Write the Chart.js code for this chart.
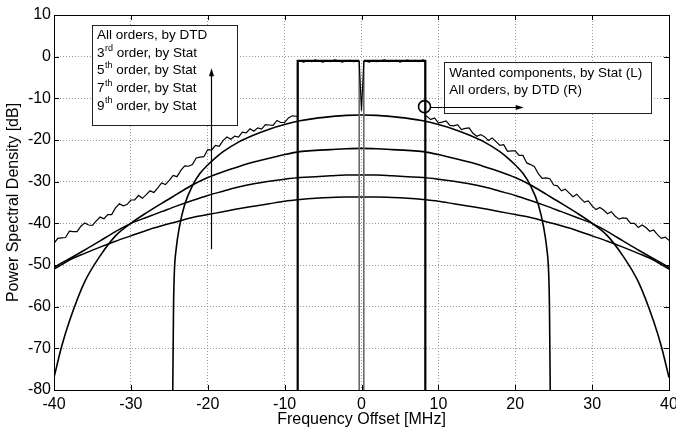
<!DOCTYPE html>
<html>
<head>
<meta charset="utf-8">
<script src="https://cdn.jsdelivr.net/npm/chart.js@4.4.1/dist/chart.umd.min.js"></script>
<style>
  html, body { margin: 0; padding: 0; background: #fff; }
  canvas { display: block; }
</style>
</head>
<body>
<canvas id="psd" width="676" height="432"></canvas>
<script>
const FONT = "'Liberation Sans', Arial, sans-serif";

// All orders, by DTD (noisy curve)
const dtdFreq = [
  -40, -39.5, -39, -38.5, -38, -37.5, -37, -36.5, -36, -35.5, -35, -34.5, -34, -33.5, -33, -32.5,
  -32, -31.5, -31, -30.5, -30, -29.5, -29, -28.5, -28, -27.5, -27, -26.5, -26, -25.5, -25, -24.5,
  -24, -23.5, -23, -22.5, -22, -21.5, -21, -20.5, -20, -19.5, -19, -18.5, -18, -17.5, -17, -16.5,
  -16, -15.5, -15, -14.5, -14, -13.5, -13, -12.5, -12, -11.5, -11, -10.5, -10, -9.5, -9, -8.5,
  -8.3, -8.3, -8, -7.5, -7, -6.5, -6, -5.5, -5, -4.5, -4, -3.5, -3, -2.5, -2, -1.5, -1, -0.5, -0.3,
  0, 0.3, 0.5, 1, 1.5, 2, 2.5, 3, 3.5, 4, 4.5, 5, 5.5, 6, 6.5, 7, 7.5, 8, 8.3, 8.3,
  8.5, 9, 9.5, 10, 10.5, 11, 11.5, 12, 12.5, 13, 13.5, 14, 14.5, 15, 15.5, 16,
  16.5, 17, 17.5, 18, 18.5, 19, 19.5, 20, 20.5, 21, 21.5, 22, 22.5, 23, 23.5, 24,
  24.5, 25, 25.5, 26, 26.5, 27, 27.5, 28, 28.5, 29, 29.5, 30, 30.5, 31, 31.5, 32,
  32.5, 33, 33.5, 34, 34.5, 35, 35.5, 36, 36.5, 37, 37.5, 38, 38.5, 39, 39.5, 40
];
const dtdLevel = [
  -44.8, -43.6, -43.5, -43.4, -41.9, -42.0, -42.0, -40.7, -39.9, -40.4, -40.5, -39.4, -38.5, -38.9, -37.9, -37.9,
  -36.3, -35.3, -35.8, -35.5, -34.4, -34.4, -33.3, -34.0, -33.1, -32.2, -32.6, -31.5, -30.3, -30.7, -29.7, -28.5,
  -28.8, -27.3, -26.2, -26.3, -25.9, -24.3, -24.1, -24.0, -22.3, -22.4, -21.3, -21.5, -20.1, -19.3, -19.8, -19.1,
  -19.3, -18.1, -18.3, -17.3, -17.9, -17.1, -17.4, -16.3, -16.4, -16.5, -15.3, -15.8, -15.8, -14.7, -14.2, -14.3,
  -14.5, -1.2, -1.0, -1.3, -0.9, -1.2, -0.8, -1.1, -1.3, -0.9, -1.2, -0.8, -1.0, -1.3, -1.0, -0.9, -1.2, -1.0, -1.1,
  -13.0, -1.1, -1.0, -1.3, -0.9, -1.2, -1.0, -0.8, -1.2, -1.0, -0.9, -1.3, -1.0, -0.8, -1.1, -0.9, -1.2, -0.8, -1.0, -14.3,
  -14.3, -15.1, -14.7, -15.9, -15.7, -15.4, -16.5, -16.6, -16.3, -17.5, -17.2, -17.1, -18.4, -19.1, -18.7, -19.2,
  -20.1, -19.5, -20.4, -21.3, -21.1, -22.7, -22.6, -22.6, -23.7, -23.7, -25.5, -25.9, -26.4, -28.1, -29.2, -29.1,
  -29.3, -30.8, -31.0, -32.2, -31.8, -32.7, -33.6, -33.0, -34.0, -34.9, -34.6, -35.8, -36.7, -36.2, -36.8, -37.7,
  -37.2, -38.3, -39.0, -38.7, -38.8, -40.0, -40.0, -41.0, -40.4, -41.0, -41.9, -41.6, -42.7, -43.6, -43.3, -44.1
];

// Wanted components, by Stat (two blocks around the carrier)
const wantedFreq = [-8.3, -8.3, -0.3, -0.3, 0, 0.3, 0.3, 8.3, 8.3];
const wantedLevel = [-80, -1.0, -1.0, -80, null, -80, -1.0, -1.0, -80];

// 3rd order, by Stat
const freq3rd = [
  -24.55, -24.45, -24.35, -24.1, -23.7, -23, -22, -21, -20, -19, -18, -16, -14, -12, -10, -8, -6, -4, -2,
  0, 2, 4, 6, 8, 10, 12, 14, 16, 18, 19, 20, 21, 22, 23, 23.7, 24.1, 24.35, 24.45, 24.55
];
const level3rd = [
  -80, -60, -52, -46, -41, -35.5, -31, -28, -26, -24.3, -22.8, -20.5, -18.8, -17.4, -16.3, -15.4, -14.8, -14.4, -14.1,
  -14.0, -14.1, -14.4, -14.8, -15.4, -16.3, -17.4, -18.8, -20.5, -22.8, -24.3, -26, -28, -31, -35.5, -41, -46, -52, -60, -80
];

// 5th, 7th, 9th order, by Stat
const freqStat = [
  -40, -39, -38, -36, -34, -32, -30, -28, -26, -24, -22, -20, -18, -16, -14, -12, -10, -8, -6, -4, -2,
  0, 2, 4, 6, 8, 10, 12, 14, 16, 18, 20, 22, 24, 26, 28, 30, 32, 34, 36, 38, 39, 40
];
const level5th = [
  -77, -69.5, -63.5, -54, -47.8, -43, -40, -37.5, -35.2, -33, -30.8, -29, -27.6, -26.4, -25.3, -24.4, -23.5, -22.8, -22.5, -22.3, -22.1,
  -22.0, -22.1, -22.3, -22.5, -22.8, -23.5, -24.4, -25.3, -26.4, -27.6, -29, -30.8, -33, -35.2, -37.5, -40, -43, -47.8, -54, -63.5, -69.5, -77
];
const level7th = [
  -50.6, -49.5, -48.5, -46.4, -44.2, -42, -40, -38.6, -37.2, -35.8, -34.5, -33.3, -32.3, -31.3, -30.5, -29.9, -29.4, -29, -28.8, -28.6, -28.4,
  -28.4, -28.4, -28.6, -28.8, -29, -29.4, -29.9, -30.5, -31.3, -32.3, -33.3, -34.5, -35.8, -37.2, -38.6, -40, -42, -44.2, -46.4, -48.5, -49.5, -50.6
];
const level9th = [
  -51, -49.9, -48.8, -47.2, -45.7, -44.3, -43, -41.7, -40.6, -39.6, -38.6, -37.9, -37.2, -36.5, -35.9, -35.3, -34.7, -34.3, -34, -33.8, -33.7,
  -33.7, -33.7, -33.8, -34, -34.3, -34.7, -35.3, -35.9, -36.5, -37.2, -37.9, -38.6, -39.6, -40.6, -41.7, -43, -44.3, -45.7, -47.2, -48.8, -49.9, -51
];

const xTicksStep = 10;
const yTicksStep = 10;

const pts = (xs, ys) => xs.map((x, i) => ({ x, y: ys[i] }));

// legend notes: [text, superscript, rest]
const leftNoteLines = [
  ["All orders, by DTD", "", ""],
  ["3", "rd", " order, by Stat"],
  ["5", "th", " order, by Stat"],
  ["7", "th", " order, by Stat"],
  ["9", "th", " order, by Stat"]
];
const rightNoteLines = [
  ["Wanted components, by Stat (L)", "", ""],
  ["All orders, by DTD (R)", "", ""]
];

function drawNoteLine(ctx, line, x, y) {
  const [main, sup, rest] = line;
  ctx.font = `13.5px ${FONT}`;
  ctx.fillText(main, x, y);
  let cx = x + ctx.measureText(main).width;
  if (sup) {
    ctx.font = `9px ${FONT}`;
    ctx.fillText(sup, cx + 0.5, y - 5);
    cx += ctx.measureText(sup).width + 0.5;
    ctx.font = `13.5px ${FONT}`;
  }
  if (rest) ctx.fillText(rest, cx, y);
}

function arrowHead(ctx, tipX, tipY, dx, dy) {
  const len = 8, half = 2.5;
  const bx = tipX - dx * len, by = tipY - dy * len;
  ctx.beginPath();
  ctx.moveTo(tipX, tipY);
  ctx.lineTo(bx - dy * half, by + dx * half);
  ctx.lineTo(bx + dy * half, by - dx * half);
  ctx.closePath();
  ctx.fill();
}

const frameAndNotes = {
  id: "frameAndNotes",
  afterDatasetsDraw(chart) {
    const { ctx, chartArea: a, scales: { x, y } } = chart;
    ctx.save();
    ctx.strokeStyle = "#000";
    ctx.fillStyle = "#000";
    ctx.lineWidth = 1;

    // frame
    ctx.strokeRect(Math.round(a.left) + 0.5, Math.round(a.top) + 0.5,
      Math.round(a.right - a.left), Math.round(a.bottom - a.top));

    // inward ticks on all sides
    ctx.beginPath();
    x.ticks.forEach(t => {
      const px = Math.round(x.getPixelForValue(t.value)) + 0.5;
      ctx.moveTo(px, a.bottom); ctx.lineTo(px, a.bottom - 5);
      ctx.moveTo(px, a.top); ctx.lineTo(px, a.top + 5);
    });
    y.ticks.forEach(t => {
      const py = Math.round(y.getPixelForValue(t.value)) + 0.5;
      ctx.moveTo(a.left, py); ctx.lineTo(a.left + 5, py);
      ctx.moveTo(a.right, py); ctx.lineTo(a.right - 5, py);
    });
    ctx.stroke();

    // left note box
    const lx0 = x.getPixelForValue(-35.05), lx1 = x.getPixelForValue(-16.2);
    const ly0 = y.getPixelForValue(7.6), ly1 = y.getPixelForValue(-16.4);
    ctx.fillStyle = "#fff";
    ctx.fillRect(lx0, ly0, lx1 - lx0, ly1 - ly0);
    ctx.strokeStyle = "#222";
    ctx.strokeRect(Math.round(lx0) + 0.5, Math.round(ly0) + 0.5, Math.round(lx1 - lx0), Math.round(ly1 - ly0));
    ctx.fillStyle = "#000";
    ctx.textBaseline = "middle";
    ctx.textAlign = "left";
    leftNoteLines.forEach((line, i) => drawNoteLine(ctx, line, lx0 + 5, ly0 + 10.5 + i * 17.6));

    // upward arrow
    const ax = Math.round(x.getPixelForValue(-19.6)) + 0.5;
    const aBottom = y.getPixelForValue(-46.2), aTop = y.getPixelForValue(-2.8);
    ctx.strokeStyle = "#000";
    ctx.lineWidth = 1.2;
    ctx.beginPath();
    ctx.moveTo(ax, aBottom); ctx.lineTo(ax, aTop + 6);
    ctx.stroke();
    arrowHead(ctx, ax, aTop, 0, -1);

    // right note box
    const rx0 = x.getPixelForValue(10.75), rx1 = x.getPixelForValue(37.65);
    const ry0 = y.getPixelForValue(-1.3), ry1 = y.getPixelForValue(-13.5);
    ctx.fillStyle = "#fff";
    ctx.fillRect(rx0, ry0, rx1 - rx0, ry1 - ry0);
    ctx.strokeStyle = "#222";
    ctx.lineWidth = 1;
    ctx.strokeRect(Math.round(rx0) + 0.5, Math.round(ry0) + 0.5, Math.round(rx1 - rx0), Math.round(ry1 - ry0));
    ctx.fillStyle = "#000";
    rightNoteLines.forEach((line, i) => drawNoteLine(ctx, line, rx0 + 5, ry0 + 11 + i * 17));

    // circle marker and right arrow
    const cx = x.getPixelForValue(8.2), cy = y.getPixelForValue(-12);
    ctx.strokeStyle = "#000";
    ctx.lineWidth = 1.6;
    ctx.beginPath();
    ctx.arc(cx, cy, 6, 0, Math.PI * 2);
    ctx.stroke();
    const tipX = x.getPixelForValue(21.1);
    ctx.lineWidth = 1.2;
    ctx.beginPath();
    ctx.moveTo(cx + 6, Math.round(cy) + 0.5); ctx.lineTo(tipX - 6, Math.round(cy) + 0.5);
    ctx.stroke();
    arrowHead(ctx, tipX, Math.round(cy) + 0.5, 1, 0);

    ctx.restore();
  }
};

const curve = (label, data, width, extra) => Object.assign({
  label,
  data,
  borderColor: "#000",
  borderWidth: width,
  pointRadius: 0,
  fill: false
}, extra || {});

// inner edges of the wanted blocks look grey in the original
const innerEdgeGrey = {
  borderColor: c => (Math.abs(c.p0.parsed.x) < 1 && Math.abs(c.p1.parsed.x) < 1 ? "#6a6a6a" : undefined),
  borderWidth: c => (Math.abs(c.p0.parsed.x) < 1 && Math.abs(c.p1.parsed.x) < 1 ? 1.6 : undefined)
};

new Chart(document.getElementById("psd"), {
  type: "line",
  data: {
    datasets: [
      curve("All orders, by DTD", pts(dtdFreq, dtdLevel), 1.2, { tension: 0 }),
      curve("Wanted components, by Stat", pts(wantedFreq, wantedLevel), 2.2, { tension: 0, spanGaps: false, segment: innerEdgeGrey }),
      curve("3rd order, by Stat", pts(freq3rd, level3rd), 1.6, { cubicInterpolationMode: "monotone" }),
      curve("5th order, by Stat", pts(freqStat, level5th), 1.6, { cubicInterpolationMode: "monotone" }),
      curve("7th order, by Stat", pts(freqStat, level7th), 1.5, { cubicInterpolationMode: "monotone" }),
      curve("9th order, by Stat", pts(freqStat, level9th), 1.5, { cubicInterpolationMode: "monotone" })
    ]
  },
  options: {
    responsive: false,
    animation: false,
    layout: { padding: { left: 0, right: 7, top: 15, bottom: 0 } },
    plugins: {
      legend: { display: false },
      tooltip: { enabled: false }
    },
    scales: {
      x: {
        type: "linear",
        min: -40,
        max: 40,
        ticks: { stepSize: xTicksStep, color: "#000", font: { family: FONT, size: 16 }, padding: 5, maxRotation: 0 },
        grid: { color: "#9a9a9a", drawTicks: false },
        border: { display: false, dash: [1, 2] },
        title: {
          display: true,
          text: "Frequency Offset [MHz]",
          color: "#000",
          font: { family: FONT, size: 16 },
          padding: { top: 0, bottom: 3 }
        },
        afterFit(scale) {
          scale.height = 42;
          scale.paddingLeft = 0;
          scale.paddingRight = 0;
        }
      },
      y: {
        min: -80,
        max: 10,
        ticks: { stepSize: yTicksStep, color: "#000", font: { family: FONT, size: 16 }, padding: 3 },
        grid: { color: "#9a9a9a", drawTicks: false },
        border: { display: false, dash: [1, 2] },
        title: {
          display: true,
          text: "Power Spectral Density [dB]",
          color: "#000",
          font: { family: FONT, size: 16 },
          padding: { top: 4, bottom: 0 }
        },
        afterFit(scale) {
          scale.width = 54;
          scale.paddingTop = 0;
          scale.paddingBottom = 0;
        }
      }
    }
  },
  plugins: [frameAndNotes]
});
</script>
</body>
</html>
